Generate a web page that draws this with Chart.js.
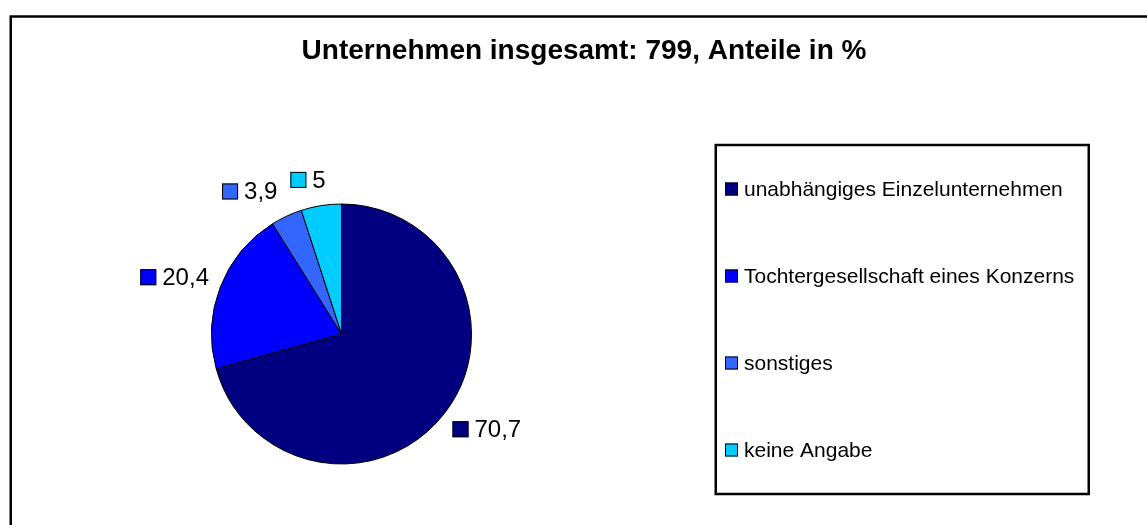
<!DOCTYPE html>
<html>
<head>
<meta charset="utf-8">
<script src="https://cdn.jsdelivr.net/npm/chart.js@4/dist/chart.umd.min.js"></script>
<style>
  html, body { margin: 0; padding: 0; background: #fff; }
  #wrap { width: 1147px; height: 525px; position: relative; }
</style>
</head>
<body>
<div id="wrap"><canvas id="c" width="1147" height="525"></canvas></div>
<script>
const titleText = "Unternehmen insgesamt: 799, Anteile in %";
const categories = [
  "unabhängiges Einzelunternehmen",
  "Tochtergesellschaft eines Konzerns",
  "sonstiges",
  "keine Angabe"
];
const shares = [70.7, 20.4, 3.9, 5];
const valueLabels = ["70,7", "20,4", "3,9", "5"];
const sliceColors = ["#000080", "#0000FF", "#3366FF", "#00CCFF"];
// small nudges for the data-label placement (px), like Excel's label fitting
const labelNudge = [[5, 2], [-2.5, -1], [-20, -3], [-8.5, -2]];

const FONT = '"Liberation Sans", Arial, sans-serif';

const decorPlugin = {
  id: 'decor',
  afterDraw(chart) {
    const ctx = chart.ctx;
    ctx.save();
    // outer frame (extends past the right/bottom edge)
    ctx.strokeStyle = '#000';
    ctx.lineWidth = 2.5;
    ctx.strokeRect(10.75, 16.5, 1200, 600);

    // title
    ctx.fillStyle = '#000';
    ctx.font = 'bold 28px ' + FONT;
    ctx.textAlign = 'center';
    ctx.textBaseline = 'alphabetic';
    ctx.fillText(titleText, 584, 59);

    // legend box
    ctx.lineWidth = 2.5;
    ctx.strokeRect(715.75, 145, 373, 349);
    ctx.font = '21px ' + FONT;
    ctx.textAlign = 'left';
    ctx.textBaseline = 'middle';
    categories.forEach((name, i) => {
      const cy = 189 + i * 87;
      ctx.fillStyle = sliceColors[i];
      ctx.fillRect(725, cy - 6.5, 13, 13);
      ctx.lineWidth = 1;
      ctx.strokeStyle = '#000';
      ctx.strokeRect(725.5, cy - 6, 12, 12);
      ctx.fillStyle = '#000';
      ctx.fillText(name, 744, cy + 1);
    });

    // data labels
    const meta = chart.getDatasetMeta(0);
    ctx.font = '24px ' + FONT;
    meta.data.forEach((arc, i) => {
      const p = arc.getProps(['x', 'y', 'startAngle', 'endAngle', 'outerRadius'], true);
      const mid = (p.startAngle + p.endAngle) / 2;
      const dx = Math.cos(mid), dy = Math.sin(mid);
      const ax = p.x + (p.outerRadius + 12) * dx;
      const ay = p.y + (p.outerRadius + 12) * dy;
      const txt = valueLabels[i];
      const tw = ctx.measureText(txt).width;
      const w = 16 + 6 + tw, h = 24;
      const cx = ax + dx * w / 2 + labelNudge[i][0];
      const cy = ay + dy * h / 2 + labelNudge[i][1];
      const left = cx - w / 2;
      ctx.fillStyle = sliceColors[i];
      ctx.fillRect(left, cy - 8, 16, 16);
      ctx.strokeStyle = '#000';
      ctx.lineWidth = 1;
      ctx.strokeRect(left + 0.5, cy - 7.5, 15, 15);
      ctx.fillStyle = '#000';
      ctx.textAlign = 'left';
      ctx.textBaseline = 'middle';
      ctx.fillText(txt, left + 22, cy + 1);
    });
    ctx.restore();
  }
};

new Chart(document.getElementById('c'), {
  type: 'pie',
  data: {
    labels: categories,
    datasets: [{
      data: shares,
      backgroundColor: sliceColors,
      borderColor: '#000',
      borderWidth: 1,
      radius: 130
    }]
  },
  options: {
    responsive: false,
    animation: false,
    layout: { padding: { left: 200, right: 664, top: 200, bottom: 57 } },
    plugins: {
      legend: { display: false },
      title: { display: false },
      tooltip: { enabled: false }
    }
  },
  plugins: [decorPlugin]
});
</script>
</body>
</html>
